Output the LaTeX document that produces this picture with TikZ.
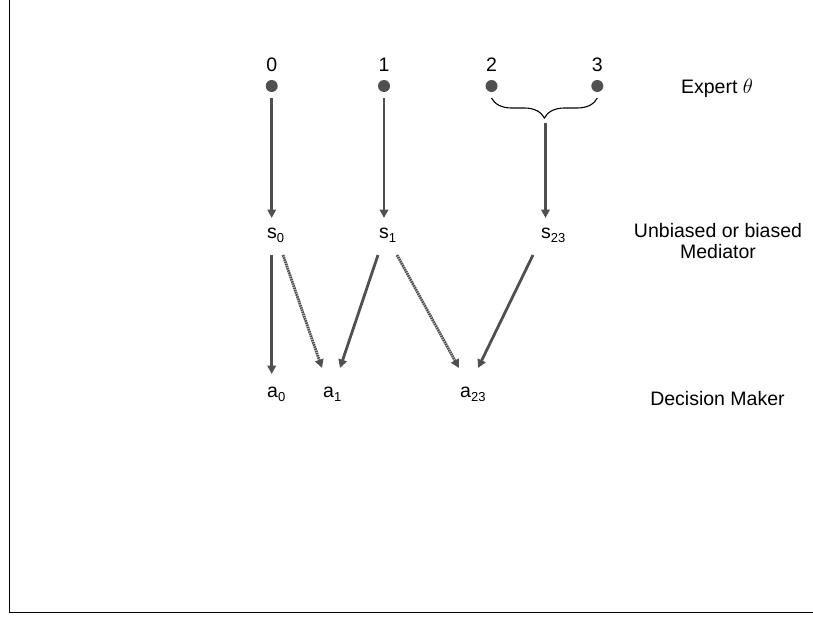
\documentclass[tikz,border=0pt]{standalone}
\usepackage{fontspec}
\setmainfont{Liberation Sans}
\usetikzlibrary{arrows.meta,decorations.pathreplacing,calc}
\definecolor{ink}{RGB}{80,80,80}
\newcommand{\sbs}[1]{\raisebox{-4.5pt}{\fontsize{13}{13}\selectfont #1}}
\begin{document}
\begin{tikzpicture}[x=1pt,y=-1pt,
  arr/.style={draw=ink,line width=2.8pt,-{Triangle[length=8.5pt,width=8.5pt]}},
  dotarr/.style={arr,dash pattern=on 1.6pt off 0.7pt},
  lbl/.style={font=\fontsize{19.5}{21}\selectfont,inner sep=0pt},
  dotnode/.style={circle,fill=ink,minimum size=12pt,inner sep=0pt},
  bracestyle/.style={draw=black,line width=1.1pt,decorate,decoration={brace,mirror,amplitude=20pt}},
  frame/.style={draw=black,line width=1.5pt}]
\useasboundingbox (0,0) rectangle (813,616);
\draw[frame] (9.5,0) -- (9.5,612.5) -- (813,612.5);
% experts
\node[dotnode] (d0) at (271.7,86) {};
\node[dotnode] (d1) at (384,86) {};
\node[dotnode] (d2) at (491.5,86) {};
\node[dotnode] (d3) at (597.3,86) {};
\node[lbl,anchor=base] (l0) at (271.7,71) {0};
\node[lbl,anchor=base] (l1) at (384,71) {1};
\node[lbl,anchor=base] (l2) at (491.5,71) {2};
\node[lbl,anchor=base] (l3) at (597.3,71) {3};
\draw[bracestyle] ($(d2)+(0,12)$) -- ($(d3)+(0,12)$);
\coordinate (bt) at (545.5,123);
% mediator signals
\node[lbl,anchor=base west] (s0) at (267,238) {s\sbs{0}};
\node[lbl,anchor=base west] (s1) at (379,238) {s\sbs{1}};
\node[lbl,anchor=base west] (s23) at (541,238) {s\sbs{23}};
% actions
\node[lbl,anchor=base west] (a0) at (267,397) {a\sbs{0}};
\node[lbl,anchor=base west] (a1) at (323,397) {a\sbs{1}};
\node[lbl,anchor=base west] (a23) at (460,397) {a\sbs{23}};
% right labels
\node[lbl,anchor=base] (expert) at (717,93) {Expert $\theta$};
\node[lbl,align=center,anchor=center] (med) at (718,241) {Unbiased or biased\\Mediator};
\node[lbl,anchor=base] (dm) at (717.5,405) {Decision Maker};
% arrows
\draw[arr] ($(d0)+(0,12)$) -- ($(s0.base west)+(4.7,-20)$);
\draw[arr] ($(d1)+(0,12)$) -- ($(s1.base west)+(5,-20)$);
\draw[arr] (bt) -- ($(s23.base west)+(4.5,-20)$);
\draw[arr] ($(s0.base west)+(4.7,17)$) -- ($(a0.base west)+(4.7,-23)$);
\draw[dotarr] ($(s0.base west)+(16,17)$) -- ($(a1.base west)+(-1,-29)$);
\draw[arr] ($(s1.base west)+(-1,17)$) -- ($(a1.base west)+(17,-29)$);
\draw[dotarr] ($(s1.base west)+(18,17)$) -- ($(a23.base west)+(-1,-29)$);
\draw[arr] ($(s23.base west)+(-8,17)$) -- ($(a23.base west)+(18,-29)$);
\end{tikzpicture}
\end{document}
